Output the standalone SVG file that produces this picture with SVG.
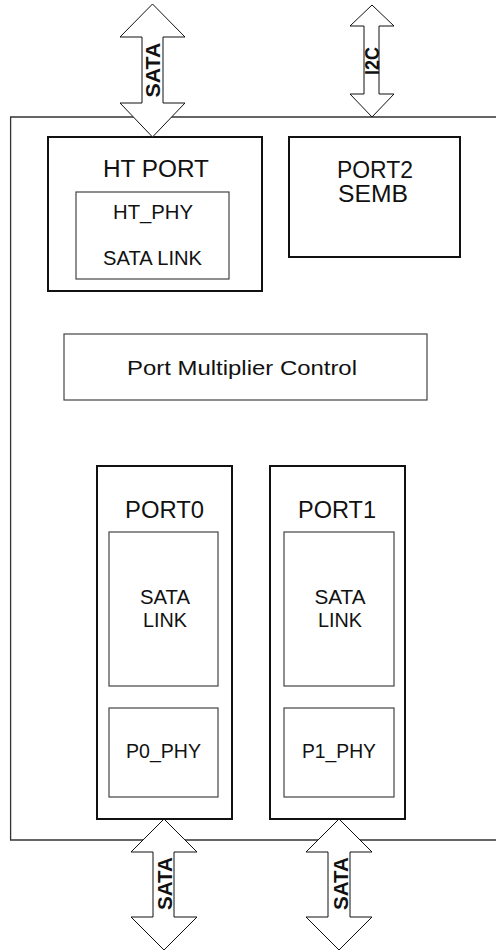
<svg xmlns="http://www.w3.org/2000/svg" width="496" height="952" viewBox="0 0 496 952">
<style>
.outer{fill:none;stroke:#333;stroke-width:1.3}
.blk{fill:#fff;stroke:#111;stroke-width:2}
.inner{fill:#fff;stroke:#444;stroke-width:1.2}
.arrow{fill:#fff;stroke:#111;stroke-width:1}
text{font-family:"Liberation Sans",Arial,sans-serif;fill:#111;text-anchor:middle}
.h{font-size:23px}
.t{font-size:20px}
.lb{font-size:21px;font-weight:bold}
</style>
<rect width="496" height="952" fill="#fff"/>
<g id="chip">
<path class="outer" d="M500 117 H10.6 V840 H500"/>
</g>
<g id="ht-port">
<rect class="blk" x="48" y="137" width="214" height="154"/>
<text class="h" x="156" y="177" textLength="106" lengthAdjust="spacingAndGlyphs">HT PORT</text>
<rect class="inner" x="76" y="192" width="153" height="87"/>
<text class="t" x="153" y="219" textLength="80" lengthAdjust="spacingAndGlyphs">HT_PHY</text>
<text class="t" x="152.5" y="265" textLength="99" lengthAdjust="spacingAndGlyphs">SATA LINK</text>
</g>
<g id="port2">
<rect class="blk" x="289" y="137" width="171" height="120"/>
<text class="h" x="375" y="178" textLength="76" lengthAdjust="spacingAndGlyphs">PORT2</text>
<text class="h" x="373" y="202" textLength="70" lengthAdjust="spacingAndGlyphs">SEMB</text>
</g>
<g id="pmc">
<rect class="inner" x="64" y="334" width="363" height="66"/>
<text class="t" style="font-size:21px" x="242" y="375" textLength="230" lengthAdjust="spacingAndGlyphs">Port Multiplier Control</text>
</g>
<g id="port0">
<rect class="blk" x="97" y="466" width="135" height="353"/>
<text class="h" x="164.5" y="518" textLength="79" lengthAdjust="spacingAndGlyphs">PORT0</text>
<rect class="inner" x="109" y="532" width="109" height="154"/>
<text class="t" x="165" y="604" textLength="50" lengthAdjust="spacingAndGlyphs">SATA</text>
<text class="t" x="165" y="627" textLength="44" lengthAdjust="spacingAndGlyphs">LINK</text>
<rect class="inner" x="109" y="708" width="109" height="89"/>
<text class="t" x="163.5" y="758" textLength="75" lengthAdjust="spacingAndGlyphs">P0_PHY</text>
</g>
<g id="port1">
<rect class="blk" x="270" y="466" width="135" height="353"/>
<text class="h" x="337" y="518" textLength="78" lengthAdjust="spacingAndGlyphs">PORT1</text>
<rect class="inner" x="284" y="532" width="110" height="154"/>
<text class="t" x="340" y="604" textLength="51" lengthAdjust="spacingAndGlyphs">SATA</text>
<text class="t" x="340" y="627" textLength="44" lengthAdjust="spacingAndGlyphs">LINK</text>
<rect class="inner" x="284" y="708" width="110" height="89"/>
<text class="t" x="339" y="758" textLength="74" lengthAdjust="spacingAndGlyphs">P1_PHY</text>
</g>
<g id="connectors">
<g id="sata-host">
<polygon class="arrow" points="152.5,4 185,37 163,37 163,103 185,103 152.5,137 120,103 142,103 142,37 120,37"/>
<text class="lb" transform="translate(159.5,70) rotate(-90)" x="0" y="0" textLength="55" lengthAdjust="spacingAndGlyphs">SATA</text>
</g>
<g id="i2c">
<polygon class="arrow" points="372,5 394,26 379,26 379,94 394,94 372,117 350,94 364,94 364,26 350,26"/>
<text class="lb" style="font-size:20px" transform="translate(378.5,61) rotate(-90)" x="0" y="0" textLength="28" lengthAdjust="spacingAndGlyphs">I2C</text>
</g>
<g id="sata-p0">
<polygon class="arrow" points="164,819 197,852 174,852 174,917 197,917 164,950 131,917 153,917 153,852 131,852"/>
<text class="lb" transform="translate(171.5,883.5) rotate(-90)" x="0" y="0" textLength="53" lengthAdjust="spacingAndGlyphs">SATA</text>
</g>
<g id="sata-p1">
<polygon class="arrow" points="339,819 372,852 350,852 350,917 372,917 339,950 306,917 328,917 328,852 306,852"/>
<text class="lb" transform="translate(347.5,883.5) rotate(-90)" x="0" y="0" textLength="53" lengthAdjust="spacingAndGlyphs">SATA</text>
</g>
</g>
</svg>
